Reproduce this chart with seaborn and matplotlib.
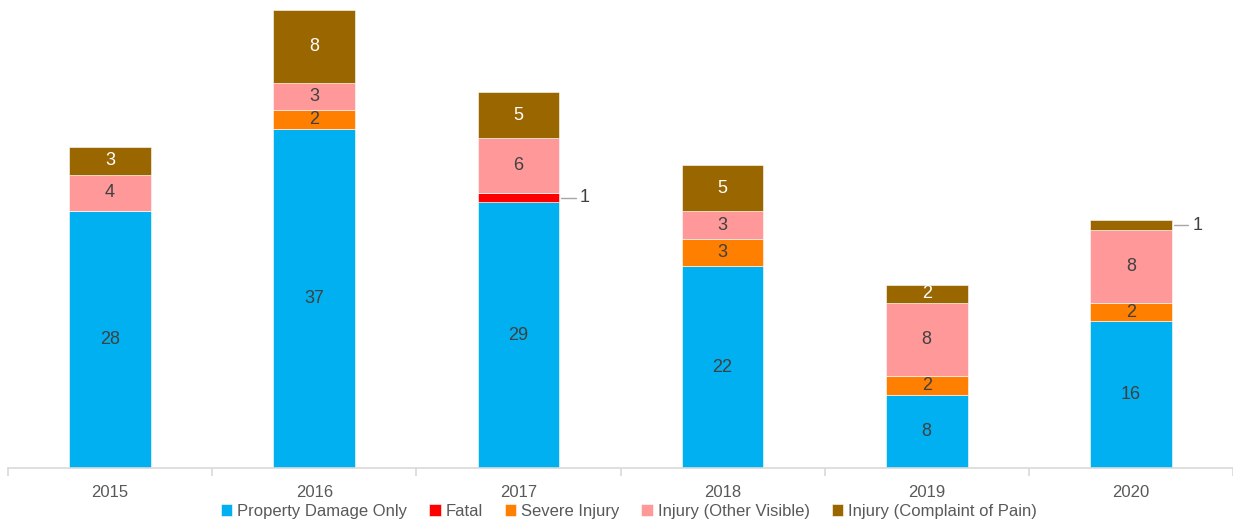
import matplotlib
matplotlib.use("Agg")
import matplotlib.pyplot as plt
import seaborn as sns
import numpy as np

years = ["2015", "2016", "2017", "2018", "2019", "2020"]
series_names = ["Property Damage Only", "Fatal", "Severe Injury",
                "Injury (Other Visible)", "Injury (Complaint of Pain)"]
property_damage = [28, 37, 29, 22, 8, 16]
fatal = [0, 0, 1, 0, 0, 0]
severe = [0, 2, 0, 3, 2, 2]
other_visible = [4, 3, 6, 3, 8, 8]
complaint = [3, 8, 5, 5, 2, 1]

series_values = [property_damage, fatal, severe, other_visible, complaint]
colors = ["#00B0F0", "#FF0000", "#FF7F00", "#FF9999", "#996600"]
label_colors = ["#404040", "#404040", "#404040", "#404040", "#FFFFFF"]

sns.set_style("white")
plt.rcParams["font.family"] = ["Liberation Sans", "DejaVu Sans"]

fig = plt.figure(figsize=(12.33, 5.25), dpi=100)
ax = fig.add_axes([8 / 1233, 57 / 525, 1225 / 1233, 463 / 525])

bar_w = 0.4
bottom = np.zeros(len(years))
for name, vals, col in zip(series_names, series_values, colors):
    sns.barplot(x=years, y=vals, bottom=bottom, color=col, width=bar_w,
                saturation=1, ax=ax, label=name, edgecolor="white",
                linewidth=0.4)
    bottom = bottom + np.array(vals)

# data labels
bottom = np.zeros(len(years))
for vals, lc in zip(series_values, label_colors):
    for i, v in enumerate(vals):
        if v == 0:
            continue
        yc = bottom[i] + v / 2
        if v == 1:
            x0 = i + bar_w / 2
            ax.plot([x0 + 0.01, x0 + 0.08], [yc, yc], color="#A6A6A6", lw=1)
            ax.text(x0 + 0.125, yc, str(v), ha="center", va="center",
                    fontsize=13, color="#404040")
        else:
            ax.text(i, yc, str(v), ha="center", va="center",
                    fontsize=13, color=lc)
    bottom = bottom + np.array(vals)

ax.set_xlim(-0.5, len(years) - 0.5)
ax.set_ylim(0, 50.5)
ax.set_yticks([])
for s in ["top", "right", "left"]:
    ax.spines[s].set_visible(False)
ax.spines["bottom"].set_color("#D9D9D9")
ax.spines["bottom"].set_linewidth(1.2)
ax.set_xticks(range(len(years)))
ax.set_xticklabels(years)
ax.set_xticks(np.arange(-0.5, len(years)), minor=True)
ax.tick_params(axis="x", which="major", length=0, labelsize=12,
               labelcolor="#595959", pad=12, bottom=True)
ax.tick_params(axis="x", which="minor", length=6, color="#D9D9D9", width=1.2,
               bottom=True, direction="out")
ax.set_xlabel("")
ax.set_ylabel("")

handles, labels = ax.get_legend_handles_labels()
ax.legend(handles, labels, loc="upper center", bbox_to_anchor=(0.507, -0.045),
          ncol=5, frameon=False, fontsize=12, handlelength=0.7,
          handleheight=0.7, handletextpad=0.3, columnspacing=1.3,
          labelcolor="#595959")

fig.savefig("out.png", dpi=100)
